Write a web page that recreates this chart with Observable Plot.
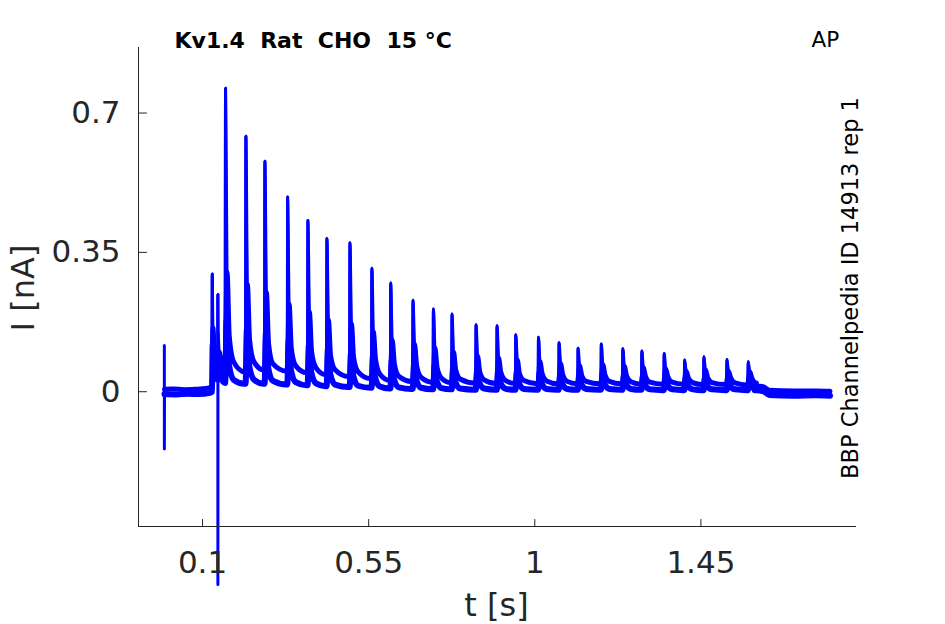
<!DOCTYPE html>
<html>
<head>
<meta charset="utf-8">
<script src="https://cdn.jsdelivr.net/npm/d3@7"></script>
<script src="https://cdn.jsdelivr.net/npm/@observablehq/plot@0.6"></script>
<style>
  html, body { margin: 0; padding: 0; background: #fff; }
</style>
</head>
<body>
<div id="chart"></div>
<script>
// ---- data ----
const title = "Kv1.4  Rat  CHO  15 °C";
const protocol = "AP";
const sideNote = "BBP Channelpedia ID 14913 rep 1";
const xLabel = "t [s]";
const yLabel = "I [nA]";

const xTicks = [0.1, 0.55, 1, 1.45];
const xTickLabels = ["0.1", "0.55", "1", "1.45"];
const yTicks = [0, 0.35, 0.7];
const yTickLabels = ["0", "0.35", "0.7"];
const xDomain = [-0.0735, 1.8715];
const yDomain = [-0.3385, 0.8646];

// start of the recording: [t, I, isSpikePoint]
const preA = [[-0.0035, 0.116, 1], [-0.0034, -0.144, 1], [-0.003, 0.006], [0.02, 0.007], [0.05, 0.005], [0.08, 0.006], [0.11, 0.008], [0.1255, 0.013],
  [0.1263, 0.296, 1], [0.128, 0.16], [0.132, 0.10], [0.138, 0.075], [0.1413, 0.07], [0.1415, 0.244, 1], [0.1416, -0.484, 1], [0.1418, 0.15, 1],
  [0.145, 0.10], [0.152, 0.07], [0.1612, 0.052]];
const preB = [[-0.003, -0.006], [0.03, -0.007], [0.06, -0.005], [0.09, -0.006], [0.12, -0.003], [0.1258, 0.0], [0.1263, 0.296, 1],
  [0.1275, 0.12], [0.132, 0.05], [0.1412, 0.03], [0.1415, 0.244, 1], [0.1425, 0.09], [0.148, 0.04], [0.1612, 0.022]];

// spike train
const spikeT = [0.1623, 0.2174, 0.2689, 0.3304, 0.3854, 0.4369, 0.4993, 0.5587, 0.6096, 0.6701, 0.7254, 0.7758, 0.8409,
  0.8978, 0.9485, 1.0100, 1.0658, 1.1173, 1.1802, 1.2385, 1.2900, 1.3505, 1.4058, 1.4581, 1.5205, 1.5782];
const spikePeak = [0.762, 0.642, 0.579, 0.489, 0.430, 0.385, 0.374, 0.310, 0.273, 0.230, 0.208, 0.195, 0.168,
  0.166, 0.143, 0.137, 0.123, 0.109, 0.120, 0.108, 0.102, 0.096, 0.080, 0.088, 0.081, 0.075];

// slowly decaying sweep: values 4 ms, 10 ms, 22 ms after each peak and just before the next spike
const decayOffsetsA = [0.004, 0.010, 0.022];
const decayA1 = [0.30, 0.27, 0.25, 0.22, 0.20, 0.18, 0.17, 0.15, 0.13, 0.12, 0.11, 0.10, 0.09, 0.085, 0.08, 0.075, 0.07, 0.065, 0.068, 0.064, 0.06, 0.058, 0.052, 0.055, 0.052, 0.05];
const decayA2 = [0.14, 0.13, 0.12, 0.11, 0.10, 0.09, 0.085, 0.08, 0.07, 0.065, 0.06, 0.055, 0.05, 0.05, 0.045, 0.045, 0.042, 0.04, 0.042, 0.04, 0.038, 0.037, 0.035, 0.036, 0.035, 0.034];
const decayA3 = [0.075, 0.075, 0.07, 0.065, 0.06, 0.055, 0.05, 0.044, 0.039, 0.036, 0.034, 0.032, 0.03, 0.029, 0.028, 0.027, 0.026, 0.026, 0.026, 0.025, 0.024, 0.024, 0.023, 0.023, 0.022, 0.022];
const floorA = [0.05, 0.055, 0.052, 0.048, 0.043, 0.038, 0.033, 0.029, 0.026, 0.024, 0.023, 0.022, 0.021, 0.021, 0.02, 0.02, 0.02, 0.02, 0.02, 0.019, 0.019, 0.019, 0.018, 0.018, 0.017, 0.016];

// faster decaying sweep: values 3 ms, 9 ms, 22 ms after each peak and the resting level
const decayOffsetsB = [0.003, 0.009, 0.022];
const decayB1 = [0.18, 0.16, 0.15, 0.13, 0.12, 0.11, 0.10, 0.09, 0.08, 0.07, 0.065, 0.06, 0.055, 0.055, 0.05, 0.048, 0.045, 0.042, 0.044, 0.042, 0.04, 0.038, 0.035, 0.036, 0.035, 0.033];
const decayB2 = [0.07, 0.065, 0.06, 0.055, 0.05, 0.045, 0.04, 0.036, 0.032, 0.03, 0.027, 0.025, 0.023, 0.023, 0.021, 0.02, 0.019, 0.018, 0.019, 0.018, 0.017, 0.016, 0.015, 0.015, 0.014, 0.014];
const decayB3 = [0.03, 0.03, 0.027, 0.024, 0.021, 0.018, 0.015, 0.013, 0.011, 0.01, 0.009, 0.008, 0.008, 0.008, 0.007, 0.007, 0.007, 0.007, 0.007, 0.007, 0.006, 0.006, 0.006, 0.006, 0.006, 0.006];
const floorB = [0.02, 0.02, 0.018, 0.016, 0.014, 0.012, 0.01, 0.008, 0.007, 0.006, 0.006, 0.005, 0.005, 0.005, 0.005, 0.005, 0.005, 0.005, 0.005, 0.005, 0.004, 0.004, 0.004, 0.004, 0.004, 0.004];

// after the last spike
const tailA = [[1.60, 0.015], [1.62, 0.012], [1.635, 0.004], [1.70, 0.002], [1.76, 0.002], [1.7997, 0.001]];
const tailB = [[1.60, 0.004], [1.62, 0.001], [1.635, -0.008], [1.70, -0.01], [1.76, -0.009], [1.7997, -0.01]];

// ---- assemble the sweeps from the readings ----
// withPeaks = false gives the noisy envelope of the sweep without the narrow spike tips
function sweep(pre, offsets, decays, floors, tail, withPeaks) {
  const pts = pre.filter(p => withPeaks || !p[2]).map(([t, I]) => ({t, I}));
  spikeT.forEach((t, i) => {
    if (i > 0) pts.push({t: t - 0.0008, I: floors[i - 1]});
    if (withPeaks) pts.push({t, I: spikePeak[i]});
    offsets.forEach((o, k) => pts.push({t: t + o, I: decays[k][i]}));
    const next = i < spikeT.length - 1 ? spikeT[i + 1] : tail[0][0];
    pts.push({t: next - 0.004, I: floors[i]});
  });
  tail.forEach(([t, I]) => pts.push({t, I}));
  return pts;
}
const decaysA = [decayA1, decayA2, decayA3];
const decaysB = [decayB1, decayB2, decayB3];
const sweepA = sweep(preA, decayOffsetsA, decaysA, floorA, tailA, true);
const sweepB = sweep(preB, decayOffsetsB, decaysB, floorB, tailB, true);
const bandA = sweep(preA, decayOffsetsA, decaysA, floorA, tailA, false);
const bandB = sweep(preB, decayOffsetsB, decaysB, floorB, tailB, false);

const axisColor = "#262626";
const traceColor = "#0000ff";
const tickShape = {draw(context, l) { context.moveTo(0, 0); context.lineTo(0, -l); }};
const lineOpts = (w) => ({x: "t", y: "I", stroke: traceColor, strokeWidth: w, strokeLinejoin: "round", curve: "monotone-x"});

const chart = Plot.plot({
  width: 945,
  height: 624,
  marginLeft: 138,
  marginRight: 89,
  marginTop: 47,
  marginBottom: 98,
  style: {fontFamily: "DejaVu Sans", background: "#fff", overflow: "visible"},
  x: {domain: xDomain, axis: null},
  y: {domain: yDomain, axis: null},
  marks: [
    Plot.line(bandB, lineOpts(6)),
    Plot.line(bandA, lineOpts(5)),
    Plot.line(sweepB, lineOpts(3)),
    Plot.line(sweepA, lineOpts(3)),
    // axis lines (box off: left and bottom only)
    Plot.ruleX([xDomain[0]], {stroke: axisColor, strokeWidth: 1}),
    Plot.ruleY([yDomain[0]], {stroke: axisColor, strokeWidth: 1}),
    // inward ticks
    Plot.vector(xTicks, {x: d => d, frameAnchor: "bottom", length: 7, rotate: 0, anchor: "start", shape: tickShape, stroke: axisColor, strokeWidth: 1}),
    Plot.vector(yTicks, {y: d => d, frameAnchor: "left", length: 8, rotate: 90, anchor: "start", shape: tickShape, stroke: axisColor, strokeWidth: 1}),
    // tick labels
    Plot.axisX(xTicks, {tickSize: 0, tickPadding: 24, fontSize: 31, fill: axisColor, label: null,
      tickFormat: d => xTickLabels[xTicks.indexOf(d)]}),
    Plot.axisY(yTicks, {tickSize: 0, tickPadding: 18, fontSize: 31, fill: axisColor, label: null,
      tickFormat: d => yTickLabels[yTicks.indexOf(d)]}),
    // axis titles
    Plot.text([yLabel], {text: d => d, frameAnchor: "left", rotate: -90, textAnchor: "middle", lineAnchor: "bottom",
      dx: -105, dy: 1, fontSize: 32, fill: axisColor}),
    Plot.text([xLabel], {text: d => d, frameAnchor: "bottom", textAnchor: "middle", lineAnchor: "bottom",
      dx: -1, dy: 89, fontSize: 32, fill: axisColor}),
    // title, protocol, side note
    Plot.text([title], {text: d => d, frameAnchor: "top-left", textAnchor: "start", lineAnchor: "bottom",
      dx: 36, dy: 0, fontSize: 22, fontWeight: "bold", fill: "#000"}),
    Plot.text([protocol], {text: d => d, frameAnchor: "top-right", textAnchor: "start", lineAnchor: "bottom",
      dx: -45, dy: -1, fontSize: 21.5, fill: "#000"}),
    Plot.text([sideNote], {text: d => d, frameAnchor: "right", rotate: -90, textAnchor: "middle", lineAnchor: "bottom",
      dx: 1, dy: 1, fontSize: 22.5, fill: "#000"})
  ]
});
document.getElementById("chart").appendChild(chart);
</script>
</body>
</html>
